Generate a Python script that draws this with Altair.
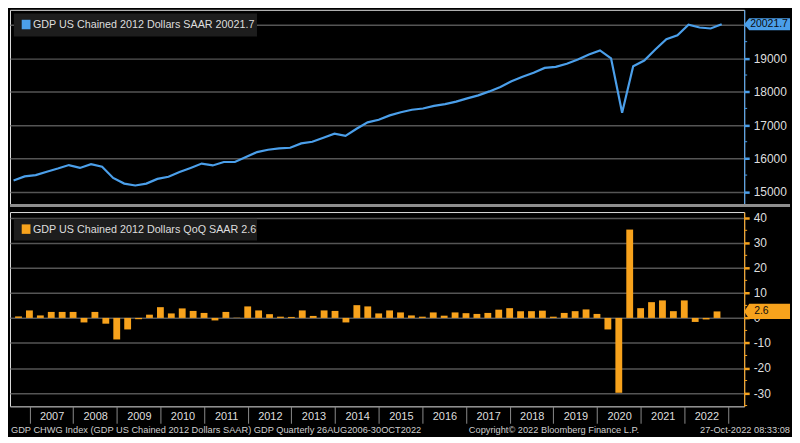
import altair as alt
import pandas as pd

# ---------------- data ----------------
quarters = [f"{y}Q{q}" for y in range(2006, 2023) for q in range(1, 5)][2:-1]  # 2006Q3 .. 2022Q3

gdp_level = [
    15338, 15460,
    15500, 15600, 15696, 15800,
    15715, 15828, 15752, 15414,
    15245, 15189, 15245, 15386,
    15451, 15592, 15715, 15845,
    15789, 15893, 15893, 16040,
    16190, 16260, 16300, 16320,
    16450, 16500, 16620, 16740,
    16674, 16890, 17080, 17160,
    17290, 17385, 17460, 17497,
    17573, 17629, 17702, 17800,
    17890, 18009, 18143, 18314,
    18448, 18571, 18714, 18743,
    18838, 18962, 19114, 19237,
    19000, 17370, 18763, 18934,
    19266, 19571, 19694, 20006,
    19924, 19895, 20021.7,
]

gdp_qoq = [
    0.6, 3.0,
    1.0, 2.4, 2.4, 2.4,
    -1.8, 2.4, -2.3, -8.6,
    -4.6, -0.5, 1.3, 4.3,
    1.8, 3.8, 2.8, 2.0,
    -1.0, 2.4, 0.1, 4.6,
    3.0, 1.5, 0.5, 0.4,
    3.0, 0.8, 3.0, 2.8,
    -1.8, 5.1, 4.6, 1.8,
    3.0, 2.2, 1.0, 0.5,
    2.2, 0.9, 2.2, 1.9,
    1.6, 2.0, 3.3, 3.9,
    2.7, 2.7, 2.9, 0.5,
    2.0, 2.7, 3.4, 1.6,
    -4.6, -29.9, 35.3, 3.9,
    6.3, 7.0, 2.7, 7.0,
    -1.6, -0.6, 2.6,
]

level_name = "GDP US Chained 2012 Dollars SAAR"
qoq_name = "GDP US Chained 2012 Dollars QoQ SAAR"

year_ticks = list(range(2007, 2024))
top_ticks = [15000, 16000, 17000, 18000, 19000, 20000]
top_minor = [15500, 16500, 17500, 18500, 19500]
bot_ticks = [-30, -20, -10, 0, 10, 20, 30, 40]
bot_minor = [-35, -25, -15, -5, 5, 15, 25, 35]

footer_left = "GDP CHWG Index (GDP US Chained 2012 Dollars SAAR) GDP  Quarterly 26AUG2006-30OCT2022"
footer_mid = "Copyright\u00a9 2022 Bloomberg Finance L.P."
footer_right = "27-Oct-2022 08:33:08"

assert len(quarters) == len(gdp_level) == len(gdp_qoq) == 65

# quarter-end position in decimal years
tpos = [int(q[:4]) + int(q[-1]) * 0.25 for q in quarters]
df = pd.DataFrame({"quarter": quarters, "t": tpos, "level": gdp_level, "qoq": gdp_qoq})
last = df.tail(1).copy()
last["level_label"] = f"{level_name} {gdp_level[-1]:.1f}"
last["qoq_label"] = f"{qoq_name} {gdp_qoq[-1]:.1f}"
last["level_tag"] = f"{gdp_level[-1]:.1f}"
last["qoq_tag"] = f"{gdp_qoq[-1]:.1f}"

# ---------------- layout / style ----------------
SX = 784 / 800
SY = 422 / 443
W = round(752 * SX)
H_TOP = round(205 * SY)
GAP = 3
H_BOT = round((413 - 208) * SY)
FULLW = 783

FONT = "Liberation Sans, Arial, sans-serif"
BLUE = "#4b9fea"
ORANGE = "#f7a21c"
GRID = "#555555"
TXT = "#dedede"
BOX = "#1d1d1d"

x_scale = alt.Scale(domain=[2006.669, 2023.258], nice=False, zero=False)
top_y = alt.Scale(domain=[14631, 20455], nice=False, zero=False)
bot_y = alt.Scale(domain=[-35.3, 42.3], nice=False, zero=False)


def right_axis(values, color, expr):
    return alt.Axis(
        orient="right", values=values, title="", grid=True, gridColor=GRID, gridWidth=1.5,
        domainColor=color, domainWidth=1, tickColor=color, tickSize=5, tickWidth=2.5,
        labelColor=TXT, labelFontSize=12, labelPadding=4, labelFlush=False,
        labelOverlap=False, labelExpr=expr, labelFont=FONT,
    )


top_axis = right_axis(top_ticks, BLUE, "datum.value == 20000 ? '' : '' + datum.value")
bot_axis = right_axis(bot_ticks, ORANGE, "'' + datum.value")
x_axis = alt.Axis(
    orient="bottom", values=year_ticks, title="", grid=False,
    domainColor="#8a8a8a", domainWidth=1, tickColor="#8a8a8a", tickSize=17, tickWidth=1,
    labelColor=TXT, labelFontSize=11, labelFont=FONT, labelOffset=45.33 * SX / 2,
    labelBaseline="middle", labelPadding=-6.5, labelFlush=False, labelOverlap=False,
    labelExpr="datum.value >= 2023 ? '' : '' + datum.value")


def tag_path(half_h):
    return f"M-1,0L-0.78,-{half_h}L1,-{half_h}L1,{half_h}L-0.78,{half_h}Z"


# ---------------- top panel ----------------
line = alt.Chart(df).mark_line(color=BLUE, strokeWidth=2.2).encode(
    x=alt.X("t:Q", scale=x_scale, axis=None),
    y=alt.Y("level:Q", scale=top_y, axis=top_axis),
)
top_minor_ticks = alt.Chart(pd.DataFrame({"v": top_minor})).mark_rule(color=BLUE, strokeWidth=1).encode(
    x=alt.value(W), x2=alt.value(W + 3), y=alt.Y("v:Q", scale=top_y, axis=top_axis),
)
top_box = alt.Chart(last).mark_rect(fill=BOX).encode(
    x=alt.value(4 * SX), x2=alt.value(253 * SX), y=alt.value(4 * SY), y2=alt.value(28 * SY))
top_sq = alt.Chart(last).mark_rect(fill=BLUE).encode(
    x=alt.value(12 * SX), x2=alt.value(21 * SX), y=alt.value(10.5 * SY), y2=alt.value(20.5 * SY))
top_txt = alt.Chart(last).mark_text(align="left", baseline="middle", color=TXT, fontSize=10.8, font=FONT).encode(
    x=alt.value(23.5 * SX), y=alt.value(16 * SY), text="level_label:N")
top_tag = alt.Chart(last).mark_point(shape=tag_path(0.26), size=(FULLW - W) ** 2, filled=True,
                                     fill=BLUE, opacity=1, strokeWidth=0).encode(
    x=alt.value((W + FULLW) / 2), y=alt.Y("level:Q", scale=top_y, axis=top_axis))
top_tag_txt = alt.Chart(last).mark_text(align="left", baseline="middle", color="#0d0d0d", fontSize=10.5, font=FONT).encode(
    x=alt.value(W + 6), y=alt.Y("level:Q", scale=top_y, axis=top_axis), text="level_tag:N")
separator = alt.Chart(last).mark_rule(color="#8e8e8e", strokeWidth=3).encode(
    x=alt.value(0), x2=alt.value(FULLW), y=alt.value(H_TOP + GAP / 2))

top = alt.layer(line, top_minor_ticks, top_box, top_sq, top_txt, top_tag, top_tag_txt, separator).properties(
    width=W, height=H_TOP)

# ---------------- bottom panel ----------------
bars = alt.Chart(df).mark_bar(size=7 * SX, color=ORANGE, orient="vertical").encode(
    x=alt.X("t:Q", scale=x_scale, axis=x_axis),
    y=alt.Y("qoq:Q", scale=bot_y, axis=bot_axis),
)
bot_minor_ticks = alt.Chart(pd.DataFrame({"v": bot_minor})).mark_rule(color=ORANGE, strokeWidth=1).encode(
    x=alt.value(W), x2=alt.value(W + 3), y=alt.Y("v:Q", scale=bot_y, axis=bot_axis),
)
bot_box = alt.Chart(last).mark_rect(fill=BOX).encode(
    x=alt.value(4 * SX), x2=alt.value(253 * SX), y=alt.value(7 * SY), y2=alt.value(30 * SY))
bot_sq = alt.Chart(last).mark_rect(fill=ORANGE).encode(
    x=alt.value(12 * SX), x2=alt.value(21 * SX), y=alt.value(13 * SY), y2=alt.value(23 * SY))
bot_txt = alt.Chart(last).mark_text(align="left", baseline="middle", color=TXT, fontSize=10.8, font=FONT).encode(
    x=alt.value(23.5 * SX), y=alt.value(18.5 * SY), text="qoq_label:N")
bot_tag = alt.Chart(last).mark_point(shape=tag_path(0.33), size=(FULLW - W) ** 2, filled=True,
                                     fill=ORANGE, opacity=1, strokeWidth=0).encode(
    x=alt.value((W + FULLW) / 2), y=alt.Y("qoq:Q", scale=bot_y, axis=bot_axis))
bot_tag_txt = alt.Chart(last).mark_text(align="left", baseline="middle", color="#0d0d0d", fontSize=10.5, font=FONT).encode(
    x=alt.value(W + 10), y=alt.Y("qoq:Q", scale=bot_y, axis=bot_axis), text="qoq_tag:N")

foot_y = H_BOT + (437.5 - 413) * SY
foot_l = alt.Chart(last).mark_text(align="left", baseline="middle", color="#cfcfcf", fontSize=9.3, font=FONT).encode(
    x=alt.value(1), y=alt.value(foot_y), text=alt.value(footer_left))
foot_m = alt.Chart(last).mark_text(align="left", baseline="middle", color="#cfcfcf", fontSize=9.3, font=FONT).encode(
    x=alt.value(470 * SX), y=alt.value(foot_y), text=alt.value(footer_mid))
foot_r = alt.Chart(last).mark_text(align="right", baseline="middle", color="#cfcfcf", fontSize=9.3, font=FONT).encode(
    x=alt.value(FULLW), y=alt.value(foot_y), text=alt.value(footer_right))

bottom = alt.layer(bars, bot_minor_ticks, bot_box, bot_sq, bot_txt, bot_tag, bot_tag_txt,
                   foot_l, foot_m, foot_r).properties(width=W, height=H_BOT)

chart = alt.vconcat(top, bottom, spacing=GAP).properties(
    background="#000000", padding=0
).configure_view(stroke="transparent").configure(font=FONT)

chart.save("out.html", embed_options={"renderer": "svg", "actions": False})
